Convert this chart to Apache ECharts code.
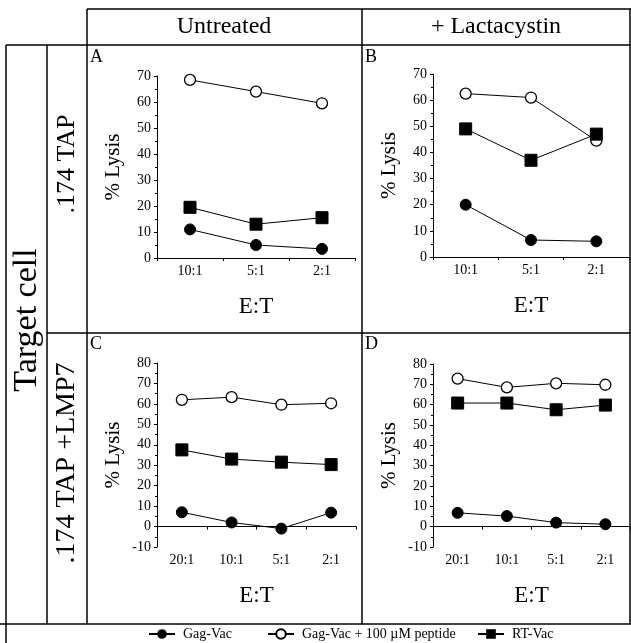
<!DOCTYPE html>
<html>
<head>
<meta charset="utf-8">
<script src="https://cdn.jsdelivr.net/npm/echarts@6/dist/echarts.min.js"></script>
<style>
  html, body { margin: 0; padding: 0; background: #fff; }
  #main { width: 631px; height: 643px; }
</style>
</head>
<body>
<div id="main"></div>
<script>
var ratios3 = ['10:1', '5:1', '2:1'];
var ratios4 = ['20:1', '10:1', '5:1', '2:1'];
var seriesNames = ['Gag-Vac', 'Gag-Vac + 100 µM peptide', 'RT-Vac'];

// A: .174 TAP, untreated
var gagA = [11, 5, 3.5];
var pepA = [68.5, 64, 59.5];
var rtA = [19.5, 13, 15.5];
// B: .174 TAP, + lactacystin
var gagB = [20, 6.5, 6];
var pepB = [62.5, 61, 44.5];
var rtB = [49, 37, 47];
// C: .174 TAP +LMP7, untreated
var gagC = [7, 2, -1, 6.8];
var pepC = [62, 63.3, 59.6, 60.3];
var rtC = [37.5, 33, 31.5, 30.3];
// D: .174 TAP +LMP7, + lactacystin
var gagD = [6.8, 5.2, 2, 1.2];
var pepD = [72.8, 68.5, 70.5, 69.8];
var rtD = [60.8, 60.8, 57.5, 59.8];

var serif = "'Liberation Serif', 'Times New Roman', serif";

var panels = [
    {label: 'A', cats: ratios3, gag: gagA, pep: pepA, rt: rtA, min: 0, max: 70,
     grid: {left: 157, top: 76, width: 198, height: 182}, lx: 90, ly: 48},
    {label: 'B', cats: ratios3, gag: gagB, pep: pepB, rt: rtB, min: 0, max: 70,
     grid: {left: 433, top: 74, width: 196, height: 183}, lx: 365, ly: 48},
    {label: 'C', cats: ratios4, gag: gagC, pep: pepC, rt: rtC, min: -10, max: 80,
     grid: {left: 157, top: 363, width: 199, height: 184}, lx: 90, ly: 335},
    {label: 'D', cats: ratios4, gag: gagD, pep: pepD, rt: rtD, min: -10, max: 80,
     grid: {left: 433, top: 364, width: 197, height: 183}, lx: 365, ly: 335}
];

var grids = [], xAxes = [], yAxes = [], series = [];
var graphics = [];

panels.forEach(function (p, i) {
    grids.push(p.grid);
    xAxes.push({
        type: 'category', gridIndex: i, data: p.cats,
        name: 'E:T', nameLocation: 'middle', nameGap: 37,
        nameTextStyle: {fontFamily: serif, fontSize: 23, color: '#000'},
        axisLine: {lineStyle: {color: '#000', width: 1}},
        axisTick: {show: true, length: 3, lineStyle: {color: '#000'}},
        axisLabel: {fontFamily: serif, fontSize: 14, color: '#000', margin: 6}
    });
    yAxes.push({
        type: 'value', gridIndex: i, min: p.min, max: p.max, interval: 10,
        name: '% Lysis', nameLocation: 'middle', nameGap: 33, nameRotate: 90,
        nameTextStyle: {fontFamily: serif, fontSize: 21, color: '#000'},
        axisLine: {show: true, lineStyle: {color: '#000', width: 1}},
        axisTick: {show: true, length: 3, lineStyle: {color: '#000'}},
        minorTick: {show: true, splitNumber: 2, length: 2, lineStyle: {color: '#000'}},
        splitLine: {show: false},
        axisLabel: {fontFamily: serif, fontSize: 14, color: '#000', margin: 6}
    });
    series.push({
        name: seriesNames[0], type: 'line', xAxisIndex: i, yAxisIndex: i, data: p.gag,
        symbol: 'circle', symbolSize: 11,
        lineStyle: {color: '#000', width: 1},
        itemStyle: {color: '#000', borderColor: '#000'}
    });
    series.push({
        name: seriesNames[1], type: 'line', xAxisIndex: i, yAxisIndex: i, data: p.pep,
        symbol: 'circle', symbolSize: 11,
        lineStyle: {color: '#000', width: 1},
        itemStyle: {color: '#fff', borderColor: '#000', borderWidth: 1.3}
    });
    series.push({
        name: seriesNames[2], type: 'line', xAxisIndex: i, yAxisIndex: i, data: p.rt,
        symbol: 'rect', symbolSize: 12,
        lineStyle: {color: '#000', width: 1},
        itemStyle: {color: '#000', borderColor: '#000'}
    });
    graphics.push({
        type: 'text', left: p.lx, top: p.ly,
        style: {text: p.label, font: '18px ' + serif, fill: '#000'}
    });
});

// table frame
function hline(y, x1, x2) {
    return {type: 'line', shape: {x1: x1, y1: y, x2: x2, y2: y}, style: {stroke: '#000', lineWidth: 1.5}};
}
function vline(x, y1, y2) {
    return {type: 'line', shape: {x1: x, y1: y1, x2: x, y2: y2}, style: {stroke: '#000', lineWidth: 1.5}};
}
graphics.push(hline(9, 87, 631));
graphics.push(hline(45, 6, 631));
graphics.push(hline(333, 47, 631));
graphics.push(hline(624, 0, 631));
graphics.push(vline(6, 45, 643));
graphics.push(vline(47, 45, 624));
graphics.push(vline(87, 9, 624));
graphics.push(vline(362, 9, 624));
graphics.push(vline(630, 9, 624));

function label(txt, x, y, size, rot) {
    return {
        type: 'text', x: x, y: y, rotation: rot || 0,
        style: {text: txt, font: size + 'px ' + serif, fill: '#000', align: 'center', verticalAlign: 'middle'}
    };
}
graphics.push(label('Untreated', 224, 27, 24));
graphics.push(label('+ Lactacystin', 496, 27, 24));
graphics.push(label('Target cell', 27, 320, 34, Math.PI / 2));
graphics.push(label('.174 TAP', 67, 164, 26, Math.PI / 2));
graphics.push(label('.174 TAP +LMP7', 67, 463, 28, Math.PI / 2));

function legendAt(name, left) {
    return {
        data: [name], left: left, top: 627, padding: 0, itemWidth: 26, itemHeight: 12,
        textStyle: {fontFamily: serif, fontSize: 14, color: '#000', padding: [0, 0, 0, 3]}
    };
}

var option = {
    animation: false,
    backgroundColor: '#fff',
    grid: grids,
    xAxis: xAxes,
    yAxis: yAxes,
    legend: [
        legendAt(seriesNames[0], 148),
        legendAt(seriesNames[1], 267),
        legendAt(seriesNames[2], 477)
    ],
    series: series,
    graphic: graphics
};

var myChart = echarts.init(document.getElementById('main'));
myChart.setOption(option);
</script>
</body>
</html>
